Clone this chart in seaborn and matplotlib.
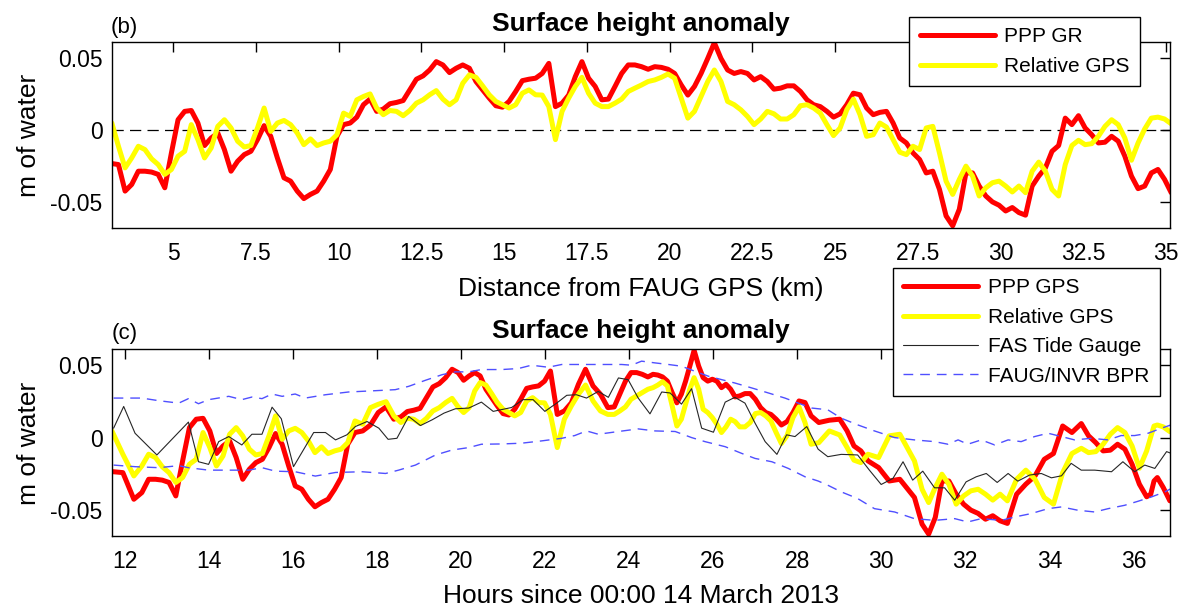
import numpy as np
import matplotlib
matplotlib.use("Agg")
import matplotlib.pyplot as plt
import seaborn as sns
from matplotlib.ticker import FuncFormatter, FixedLocator

# ---------------- data ----------------
# sample positions along the track (distance, km) and the matching times (hours)
dist_km = np.linspace(3.15, 35.15, 161)
hours = [11.700, 11.960, 12.222, 12.412, 12.574, 12.737, 12.899, 13.059, 13.220, 13.382,
         13.544, 13.706, 13.868, 14.029, 14.187, 14.343, 14.500, 14.656, 14.812, 14.969,
         15.124, 15.280, 15.437, 15.593, 15.749, 15.905, 16.061, 16.217, 16.373, 16.530,
         16.685, 16.841, 16.998, 17.154, 17.310, 17.482, 17.666, 17.851, 18.036, 18.222,
         18.406, 18.575, 18.728, 18.879, 19.031, 19.183, 19.336, 19.488, 19.639, 19.792,
         19.936, 20.067, 20.199, 20.330, 20.460, 20.597, 20.733, 20.868, 21.004, 21.143,
         21.283, 21.425, 21.567, 21.708, 21.849, 21.992, 22.132, 22.295, 22.463, 22.630,
         22.798, 22.967, 23.145, 23.321, 23.498, 23.650, 23.783, 23.917, 24.050, 24.184,
         24.317, 24.451, 24.573, 24.687, 24.799, 24.914, 25.028, 25.140, 25.247, 25.348,
         25.448, 25.550, 25.658, 25.765, 25.875, 25.983, 26.092, 26.201, 26.309, 26.419,
         26.526, 26.635, 26.760, 26.884, 27.007, 27.132, 27.254, 27.377, 27.501, 27.626,
         27.759, 27.902, 28.045, 28.188, 28.333, 28.517, 28.767, 29.014, 29.190, 29.353,
         29.517, 29.686, 29.939, 30.192, 30.444, 30.792, 30.973, 31.130, 31.287, 31.445,
         31.611, 31.785, 31.960, 32.133, 32.307, 32.482, 32.655, 32.829, 33.003, 33.222,
         33.441, 33.660, 33.880, 34.099, 34.318, 34.538, 34.761, 34.934, 35.106, 35.280,
         35.452, 35.624, 35.798, 35.969, 36.143, 36.316, 36.413, 36.491, 36.570, 36.711,
         36.868]

ppp_height = [-0.0235, -0.0242, -0.0426, -0.038, -0.0288, -0.0288, -0.0294, -0.031, -0.0403, -0.0161,
              0.0069, 0.0127, 0.0133, 0.0046, -0.011, -0.0058, -0.0023, -0.0138, -0.0288, -0.0219,
              -0.0173, -0.015, -0.0069, 0.0028, -0.0046, -0.0196, -0.0334, -0.0357, -0.0426, -0.0478,
              -0.0449, -0.0426, -0.0357, -0.0276, -0.0046, 0.0035, 0.0046, 0.0087, 0.0173, 0.0212,
              0.0127, 0.0143, 0.018, 0.0189, 0.0202, 0.0276, 0.035, 0.0373, 0.0414, 0.0472,
              0.0449, 0.0396, 0.0426, 0.0449, 0.0426, 0.0334, 0.0276, 0.0219, 0.0166, 0.0156,
              0.0196, 0.0265, 0.034, 0.035, 0.0357, 0.039, 0.046, 0.016, 0.0184, 0.024,
              0.0368, 0.0472, 0.0357, 0.03, 0.0207, 0.0212, 0.03, 0.039, 0.0449, 0.0449,
              0.0437, 0.0419, 0.0437, 0.0432, 0.0419, 0.039, 0.031, 0.024, 0.03, 0.039,
              0.0494, 0.0603, 0.0494, 0.0414, 0.039, 0.0403, 0.039, 0.0345, 0.0368, 0.0334,
              0.0281, 0.0288, 0.0304, 0.0304, 0.0265, 0.0207, 0.0173, 0.016, 0.0127, 0.0087,
              0.011, 0.0173, 0.0253, 0.0242, 0.015, 0.0104, 0.012, 0.0127, 0.0046, -0.0058,
              -0.0092, -0.0161, -0.0207, -0.03, -0.0288, -0.0414, -0.0598, -0.0667, -0.0552, -0.03,
              -0.03, -0.0391, -0.046, -0.0501, -0.0524, -0.0564, -0.054, -0.0575, -0.0593, -0.0391,
              -0.0322, -0.0265, -0.015, -0.011, 0.008, 0.0035, 0.0097, 0.0012, -0.0035, -0.0092,
              -0.0087, -0.0046, -0.008, -0.0184, -0.0322, -0.0409, -0.0391, -0.03, -0.0276, -0.0345,
              -0.0437]

rel_height = [0.0046, -0.0115, -0.0265, -0.0196, -0.0115, -0.0138, -0.0202, -0.0242, -0.031, -0.0276,
              -0.0184, -0.015, 0.0035, -0.0069, -0.0196, -0.0127, 0.0023, 0.0069, 0.0012, -0.008,
              -0.012, -0.011, 0.0012, 0.015, -0.0012, 0.0046, 0.0064, 0.0035, -0.0023, -0.0104,
              -0.0064, -0.011, -0.0092, -0.008, -0.0035, 0.0115, 0.0092, 0.0207, 0.023, 0.0248,
              0.015, 0.0104, 0.0133, 0.0127, 0.0097, 0.0133, 0.0184, 0.0207, 0.0242, 0.0271,
              0.0212, 0.0173, 0.0207, 0.0322, 0.038, 0.0363, 0.0304, 0.0242, 0.0196, 0.0173,
              0.015, 0.0173, 0.0253, 0.0276, 0.0242, 0.024, 0.016, -0.0069, 0.0127, 0.0219,
              0.03, 0.0363, 0.0253, 0.0184, 0.016, 0.016, 0.0184, 0.0212, 0.0265, 0.0288,
              0.031, 0.0334, 0.0345, 0.0363, 0.0386, 0.0357, 0.0219, 0.008, 0.0127, 0.023,
              0.0334, 0.0414, 0.0334, 0.0196, 0.0173, 0.0138, 0.0092, 0.0035, 0.0074, 0.0127,
              0.011, 0.0074, 0.0074, 0.0104, 0.0166, 0.0173, 0.015, 0.0115, 0.0035, -0.0041,
              0.0012, 0.0138, 0.0212, 0.0104, -0.0046, -0.0035, 0.0046, 0.0018, -0.0069, -0.0156,
              -0.0173, -0.0115, -0.0138, 0.0012, 0.0023, -0.0161, -0.0357, -0.0449, -0.0345, -0.0253,
              -0.0322, -0.046, -0.0403, -0.0368, -0.0357, -0.0391, -0.0432, -0.0391, -0.0437, -0.0288,
              -0.0225, -0.0288, -0.0414, -0.046, -0.0242, -0.011, -0.0074, -0.0104, -0.0097, -0.0046,
              0.0023, 0.0069, 0.0035, -0.0058, -0.0212, -0.0092, 0.0005, 0.008, 0.0087, 0.0074,
              0.0041]

tide_hours = [11.74, 11.98, 12.25, 12.77, 13.52, 13.76, 14.0, 14.24, 14.48, 14.79, 15.03, 15.27,
              15.51, 15.73, 16.02, 16.5, 16.78, 17.02, 17.29, 17.49, 17.77, 18.05, 18.27, 18.48,
              18.76, 19.04, 19.32, 19.6, 19.87, 20.19, 20.49, 20.77, 21.21, 21.48, 21.72, 22.0,
              22.28, 22.52, 22.75, 22.99, 23.27, 23.51, 23.75, 23.98, 24.22, 24.5, 24.78, 24.98,
              25.25, 25.49, 25.73, 26.01, 26.29, 26.52, 26.76, 27.0, 27.24, 27.52, 27.75, 27.95,
              28.23, 28.5, 28.73, 29.05, 29.44, 29.72, 30.0, 30.28, 30.52, 30.75, 30.99, 31.27,
              31.51, 31.75, 32.02, 32.26, 32.5, 32.76, 33.02, 33.25, 33.53, 33.81, 34.05, 34.29,
              34.52, 34.76, 35.08, 35.48, 35.75, 36.03, 36.27, 36.51, 36.79, 36.9]
tide_level = [0.0065, 0.0215, 0.003, -0.012, 0.0107, -0.0167, -0.0185, -0.0028, 0.0007, -0.0051,
              0.0023, 0.0023, 0.021, 0.013, -0.0201, 0.0035, 0.0035, -0.0016, 0.0019, 0.0076,
              0.0111, 0.0065, -0.0012, -0.0005, 0.0146, 0.0083, 0.0123, 0.0169, 0.0199, 0.0204,
              0.0245, 0.0181, 0.0208, 0.0262, 0.0262, 0.0181, 0.0238, 0.0292, 0.0296, 0.0273,
              0.0319, 0.0278, 0.0412, 0.04, 0.0273, 0.0164, 0.0315, 0.0308, 0.0231, 0.0338,
              0.0065, 0.0037, 0.0245, 0.0278, 0.0238, 0.01, -0.0028, -0.0116, 0.0019, 0.0007,
              0.0076, -0.008, -0.0132, -0.0116, -0.012, -0.0225, -0.0324, -0.0282, -0.0167, -0.0294,
              -0.0232, -0.0347, -0.0347, -0.0433, -0.0306, -0.0271, -0.0248, -0.031, -0.0248, -0.0301,
              -0.0259, -0.0248, -0.0278, -0.0264, -0.0178, -0.0225, -0.0225, -0.0236, -0.0167, -0.0236,
              -0.019, -0.0213, -0.0097, -0.0109]

bpr_hi_hours = [11.74, 12.41, 12.81, 13.29, 13.52, 13.76, 14.0, 14.48, 14.79, 15.03, 15.27, 15.51,
                15.75, 16.06, 16.3, 16.78, 17.33, 17.97, 18.44, 18.76, 19.16, 19.56, 19.87, 20.19,
                20.49, 20.97, 21.37, 21.68, 22.08, 22.4, 23.35, 23.83, 24.06, 24.3, 24.62, 24.94,
                25.25, 25.57, 25.89, 26.21, 26.52, 26.92, 27.32, 27.71, 28.03, 28.35, 28.73, 29.05,
                29.44, 29.84, 30.32, 30.79, 31.27, 31.59, 31.83, 32.06, 32.38, 32.7, 33.02, 33.33,
                33.65, 33.97, 34.29, 34.6, 35.0, 35.4, 35.71, 36.03, 36.35, 36.67, 36.9]
bpr_hi = [0.0273, 0.0273, 0.0255, 0.0238, 0.0269, 0.0234, 0.0262, 0.0285, 0.0262, 0.028, 0.0269,
          0.0301, 0.0285, 0.0301, 0.0273, 0.0296, 0.0315, 0.0324, 0.0331, 0.0354, 0.0396, 0.0435,
          0.0454, 0.0454, 0.047, 0.047, 0.0477, 0.05, 0.0486, 0.0505, 0.0505, 0.0505, 0.05,
          0.0528, 0.0516, 0.0505, 0.0493, 0.0458, 0.0424, 0.04, 0.0377, 0.0343, 0.0308, 0.0273,
          0.0238, 0.0204, 0.0192, 0.0134, 0.0088, 0.0046, 0.0, -0.0016, -0.0028, -0.0046, -0.0016,
          -0.0046, -0.0016, -0.0051, -0.0016, -0.0028, 0.0007, 0.003, 0.0007, -0.0016, -0.0005,
          -0.0016, 0.0014, 0.0014, 0.003, 0.0065, 0.0088]

bpr_lo_hours = [11.74, 12.25, 12.81, 13.29, 13.52, 14.0, 14.48, 14.95, 15.27, 15.59, 16.06, 16.54,
                17.02, 17.65, 18.21, 18.52, 18.92, 19.4, 19.79, 20.19, 20.49, 20.97, 21.44, 21.92,
                22.4, 22.71, 22.99, 23.27, 23.75, 24.22, 24.62, 25.1, 25.49, 25.81, 26.29, 26.68,
                27.0, 27.4, 27.79, 28.19, 28.5, 28.73, 29.05, 29.44, 29.84, 30.32, 30.79, 31.27,
                31.75, 32.06, 32.38, 32.86, 33.17, 33.57, 33.97, 34.29, 34.68, 35.08, 35.4, 35.79,
                36.11, 36.43, 36.75, 36.9]
bpr_lo = [-0.019, -0.0201, -0.0208, -0.0194, -0.0208, -0.0225, -0.0225, -0.0225, -0.0208, -0.0232,
          -0.0236, -0.0266, -0.0241, -0.0236, -0.0248, -0.0225, -0.019, -0.012, -0.0086, -0.0069,
          -0.0046, -0.0044, -0.0039, -0.0023, -0.0005, 0.0014, 0.0046, 0.0023, 0.0042, 0.006,
          0.0046, 0.0042, 0.0, -0.0028, -0.0063, -0.0109, -0.0144, -0.0167, -0.0213, -0.0271,
          -0.03, -0.0329, -0.0375, -0.0421, -0.0491, -0.0514, -0.056, -0.0572, -0.056, -0.0583,
          -0.056, -0.0572, -0.0549, -0.0525, -0.0491, -0.0479, -0.0502, -0.0514, -0.0491, -0.0468,
          -0.044, -0.041, -0.0375, -0.0352]

dist_ticks = [5, 7.5, 10, 12.5, 15, 17.5, 20, 22.5, 25, 27.5, 30, 32.5, 35]
hour_ticks = [12, 14, 16, 18, 20, 22, 24, 26, 28, 30, 32, 34, 36]
y_ticks = [-0.05, 0, 0.05]

# ---------------- style ----------------
sns.set_style("white")
plt.rcParams["font.family"] = ["Liberation Sans", "DejaVu Sans"]
plt.rcParams["axes.unicode_minus"] = False
plt.rcParams["text.color"] = "black"
plt.rcParams["axes.labelcolor"] = "black"

RED = "#ff0000"
YEL = "#ffff00"
BLU = "#4f4fff"
BLK = "#262626"

fig = plt.figure(figsize=(11.9, 6.1), dpi=100)
ax1 = fig.add_axes([0.0944, 0.6267, 0.8884, 0.3049])
ax2 = fig.add_axes([0.0944, 0.1213, 0.8884, 0.3061])

fmt = FuncFormatter(lambda v, p: "%g" % v)

def style(ax, xt):
    for s in ax.spines.values():
        s.set_color("black")
        s.set_linewidth(1.0)
    ax.xaxis.set_major_locator(FixedLocator(xt))
    ax.yaxis.set_major_locator(FixedLocator(y_ticks))
    ax.xaxis.set_major_formatter(fmt)
    ax.yaxis.set_major_formatter(fmt)
    ax.tick_params(direction="in", length=7, width=1, color="black",
                   top=True, right=True, labelsize=16.5, labelcolor="black")
    ax.tick_params(axis="x", pad=10)
    ax.tick_params(axis="y", pad=7)
    ax.set_ylim(-0.068, 0.061)
    ax.set_xlabel("")
    ax.set_ylabel("")
    ax.set_title("Surface height anomaly", fontsize=19, fontweight="bold", pad=8,
                 color="black")

legend_kw = dict(loc="upper right", bbox_transform=fig.transFigure, fontsize=15,
                 frameon=True, fancybox=False, framealpha=1, edgecolor="black",
                 handlelength=3.6, handletextpad=0.45, labelspacing=0.5,
                 borderpad=0.5, borderaxespad=0)

# ---------------- top panel ----------------
sns.lineplot(x=dist_km, y=ppp_height, ax=ax1, color=RED, lw=3.6, sort=False, estimator=None)
sns.lineplot(x=dist_km, y=rel_height, ax=ax1, color=YEL, lw=3.6, sort=False, estimator=None)
top_lines = list(ax1.lines)
ax1.axhline(0, color="black", lw=0.9, ls=(0, (9, 5)), zorder=1)
ax1.set_xlim(3.165, 35.1)
style(ax1, dist_ticks)
leg1 = ax1.legend(top_lines, ["PPP GR", "Relative GPS"],
                  bbox_to_anchor=(0.958, 0.972), **legend_kw)
leg1.get_frame().set_linewidth(1.0)

# ---------------- bottom panel ----------------
sns.lineplot(x=hours, y=ppp_height, ax=ax2, color=RED, lw=3.6, sort=False, estimator=None)
sns.lineplot(x=hours, y=rel_height, ax=ax2, color=YEL, lw=3.6, sort=False, estimator=None)
sns.lineplot(x=tide_hours, y=tide_level, ax=ax2, color=BLK, lw=0.8, sort=False, estimator=None)
sns.lineplot(x=bpr_hi_hours, y=bpr_hi, ax=ax2, color=BLU, lw=1.0, ls=(0, (7, 5)),
             sort=False, estimator=None)
sns.lineplot(x=bpr_lo_hours, y=bpr_lo, ax=ax2, color=BLU, lw=1.0, ls=(0, (7, 5)),
             sort=False, estimator=None)
bl = list(ax2.lines)
ax2.set_xlim(11.71, 36.86)
style(ax2, hour_ticks)
leg2 = ax2.legend([bl[0], bl[1], bl[2], bl[3]],
                  ["PPP GPS", "Relative GPS", "FAS Tide Gauge", "FAUG/INVR BPR"],
                  bbox_to_anchor=(0.9744, 0.5607), **legend_kw)
leg2.get_frame().set_linewidth(1.0)

# ---------------- labels ----------------
fig.text(111 / 1190, 1 - 33 / 610, "(b)", fontsize=16, ha="left", va="baseline")
fig.text(112 / 1190, 1 - 339 / 610, "(c)", fontsize=16, ha="left", va="baseline")
fig.text(641 / 1190, 1 - 289 / 610, "Distance from FAUG GPS (km)", fontsize=19,
         ha="center", va="center")
fig.text(641 / 1190, 1 - 596 / 610, "Hours since 00:00 14 March 2013", fontsize=19,
         ha="center", va="center")
fig.text(29 / 1190, 1 - 135 / 610, "m of water", fontsize=19, rotation=90,
         ha="center", va="center")
fig.text(29 / 1190, 1 - 443 / 610, "m of water", fontsize=19, rotation=90,
         ha="center", va="center")

fig.savefig("out.png", dpi=100, facecolor="white")
